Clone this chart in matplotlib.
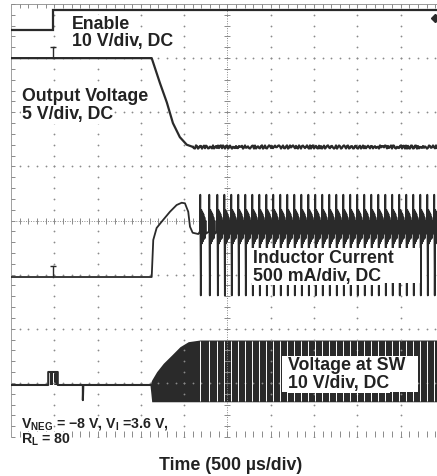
import numpy as np
import matplotlib.pyplot as plt
from matplotlib.patches import Rectangle

plt.rcParams['font.family'] = ['Liberation Sans', 'DejaVu Sans']
plt.rcParams['mathtext.fontset'] = 'custom'
plt.rcParams['mathtext.rm'] = 'Liberation Sans:bold'
plt.rcParams['mathtext.bf'] = 'Liberation Sans:bold'
plt.rcParams['mathtext.default'] = 'bf'

# ---- scope settings -------------------------------------------------------
MS_PER_DIV = 0.5            # 500 us/div
T_END = 4.92                # visible part of the time base (ms)
N_YDIV = 8

# channel ground positions (div from bottom) and units per division
ENABLE_GND, ENABLE_SCALE = 7.52, 10.0    # V/div
VOUT_GND, VOUT_SCALE = 7.0, 5.0          # V/div
IL_GND, IL_SCALE = 2.956, 0.5            # A/div
SW_GND, SW_SCALE = 0.961, 10.0           # V/div

# ---- waveforms -------------------------------------------------------------
trigger_t = 0.485

enable_t = [0.0, 0.485, 0.485, T_END]
enable_v = [0.0, 0.0, 3.6, 3.6]

vout_t = [0.0, 1.625, 1.72, 1.80, 1.87, 1.95, 2.03, 2.10]
vout_v = [0.0, 0.0, -2.3, -4.1, -6.0, -7.3, -8.0, -8.2]
vout_final = -8.2

il_t = [0.0, 1.625, 1.643, 1.682, 1.740, 1.836, 1.913, 1.971, 2.009,
        2.047, 2.067, 2.098, 2.163]
il_v = [0.0, 0.0, 0.342, 0.453, 0.511, 0.603, 0.665, 0.686, 0.681,
        0.603, 0.465, 0.409, 0.397]

# switching events after soft start (ms)
switch_t = [2.182, 2.286, 2.379, 2.460, 2.540, 2.621, 2.702, 2.783, 2.864,
            2.945, 3.025, 3.106, 3.187, 3.268, 3.349, 3.430, 3.510, 3.591,
            3.672, 3.753, 3.834, 3.914, 3.995, 4.076, 4.157, 4.238, 4.319,
            4.399, 4.480, 4.561, 4.642, 4.723, 4.804, 4.884]
# inductor current around one switching event (offset ms, A)
ring_dt = [0.0, 0.004, 0.010, 0.016, 0.022, 0.028, 0.034, 0.040, 0.046,
           0.052, 0.058, 0.064, 0.070]
ring_il = [0.42, 0.76, -0.17, 0.62, 0.31, 0.60, 0.33, 0.58, 0.35,
           0.55, 0.36, 0.52, 0.40]

# switch node: idle trace before start-up (ms, V)
sw_idle_t = [0.0, 0.43, 0.43, 0.54, 0.54, 0.83, 0.83, 0.835, 1.605]
sw_idle_v = [0.0, 0.0, 2.4, 2.4, 0.0, 0.0, -2.8, 0.0, 0.0]
sw_blips = [(0.45, 0.485), (0.497, 0.531)]
sw_blip_v = 2.4
# switch node envelope during start-up
sw_env_t = [1.605, 1.615, 1.625, 1.682, 1.759, 1.856, 1.951, 2.047, 2.182, T_END]
sw_env_hi = [0.0, 0.5, 0.92, 2.45, 4.01, 5.54, 7.07, 8.0, 8.31, 8.31]
sw_env_lo = [0.0, -1.5, -3.1, -3.1, -3.1, -3.1, -3.1, -3.1, -3.1, -3.1]


def to_div(values, gnd, scale):
    return gnd + np.asarray(values, dtype=float) / scale


TRACE = '#2a2a2a'
GRID = '#8a8a8a'
INK = '#222222'

fig = plt.figure(figsize=(4.37, 4.76), dpi=100)
ax = fig.add_axes([11 / 437, 39 / 476, 426 / 437, 433 / 476])
ax.set_xlim(0, T_END)
ax.set_ylim(0, N_YDIV)
ax.axis('off')

# ---- graticule -------------------------------------------------------------
minor_x = np.arange(0, 10.01, 0.2) * MS_PER_DIV
minor_y = np.arange(0, N_YDIV + 0.01, 0.2)
for gx in [1, 2, 3, 4, 6, 7, 8, 9]:
    ax.plot(np.full_like(minor_y, gx * MS_PER_DIV), minor_y, ls='none',
            marker='o', ms=1.3, mew=0, color=GRID)
for gy in [1, 2, 3, 5, 6, 7]:
    ax.plot(minor_x, np.full_like(minor_x, gy), ls='none',
            marker='o', ms=1.3, mew=0, color=GRID)
# centre cross with minor ticks
cx = 5 * MS_PER_DIV
ax.plot([cx, cx], [0, N_YDIV], ls=(0, (1, 1.5)), lw=0.7, color=GRID)
ax.plot(np.full_like(minor_y, cx), minor_y, ls='none', marker='_', ms=5,
        mew=0.7, color=GRID)
ax.plot([0, T_END], [4, 4], ls=(0, (1, 1.5)), lw=0.7, color=GRID)
ax.plot(minor_x, np.full_like(minor_x, 4), ls='none', marker='|', ms=5,
        mew=0.7, color=GRID)
# screen border
ax.plot([0, T_END], [N_YDIV, N_YDIV], lw=1.4, color='#9a9a9a')
ax.plot(minor_x, np.full_like(minor_x, N_YDIV), ls='none', marker=3, ms=3,
        mew=0.7, color=GRID)
ax.plot(minor_x, np.zeros_like(minor_x), ls='none', marker=2, ms=4,
        mew=0.7, color=GRID)
ax.plot([0, 0], [0, N_YDIV], lw=0.7, color='#a0a0a0')
ax.plot(np.zeros_like(minor_y), minor_y, ls='none', marker=1, ms=3,
        mew=0.7, color=GRID)

# ---- traces ----------------------------------------------------------------
ax.plot(enable_t, to_div(enable_v, ENABLE_GND, ENABLE_SCALE), color=TRACE,
        lw=1.6, solid_joinstyle='miter')
ax.plot(T_END - 0.02, ENABLE_GND + 0.22, marker='D', ms=4.5, color=TRACE,
        clip_on=False)

ax.plot(vout_t, to_div(vout_v, VOUT_GND, VOUT_SCALE), color=TRACE, lw=1.6)
ripple, = ax.plot([vout_t[-1], T_END],
                  to_div([vout_final, vout_final], VOUT_GND, VOUT_SCALE),
                  color=TRACE, lw=1.6)
ripple.set_sketch_params(scale=1.6, length=3.5, randomness=2)

# ground / trigger markers
for gnd in (VOUT_GND, IL_GND):
    ax.plot([trigger_t, trigger_t], [gnd, gnd + 0.21], color=TRACE, lw=1.0)
    ax.plot(trigger_t, gnd + 0.21, marker='_', ms=5, mew=1.0, color=TRACE)

il_full_t = list(il_t)
il_full_v = list(il_v)
for tp in switch_t:
    for dt, v in zip(ring_dt, ring_il):
        il_full_t.append(tp + dt)
        il_full_v.append(v)
il_full_t.append(T_END)
il_full_v.append(ring_il[-1])
ax.plot(il_full_t, to_div(il_full_v, IL_GND, IL_SCALE), color=TRACE, lw=1.3)

ax.plot(sw_idle_t, to_div(sw_idle_v, SW_GND, SW_SCALE), color=TRACE, lw=1.5)
for a, b in sw_blips:
    ax.fill_between([a, b], SW_GND, SW_GND + sw_blip_v / SW_SCALE,
                    color=TRACE, lw=0)
ax.fill_between(sw_env_t, to_div(sw_env_lo, SW_GND, SW_SCALE),
                to_div(sw_env_hi, SW_GND, SW_SCALE), color=TRACE, lw=0)
ax.vlines(switch_t, SW_GND + min(sw_env_lo) / SW_SCALE + 0.02,
          SW_GND + max(sw_env_hi) / SW_SCALE - 0.02, color='white', lw=0.7)

# ---- annotations -----------------------------------------------------------
LABEL = dict(fontsize=12.8, fontweight='bold', color=INK)

ax.add_patch(Rectangle((2.725, 2.845), 4.723 - 2.725, 3.492 - 2.845,
                       facecolor='white', edgecolor='none', zorder=5))
ax.add_patch(Rectangle((3.129, 0.831), 4.700 - 3.129, 1.497 - 0.831,
                       facecolor='white', edgecolor='none', zorder=5))

labels = [
    (0.704, [7.538, 7.215], ['Enable', '10 V/div, DC']),
    (0.127, [6.213, 5.870], ['Output Voltage', '5 V/div, DC']),
    (2.794, [3.220, 2.888], ['Inductor Current', '500 mA/div, DC']),
    (3.199, [1.238, 0.900], ['Voltage at SW', '10 V/div, DC']),
]
for x, ys, lines in labels:
    for y, s in zip(ys, lines):
        ax.text(x, y, s, va='baseline', ha='left', zorder=6,
                bbox=dict(facecolor='white', edgecolor='none', pad=0.5),
                **LABEL)

# test conditions, bottom left of the screen
ax.text(0.115, -0.13, 'R$_{L}$ = 80', va='baseline', ha='left',
        fontsize=10.2, fontweight='bold', color=INK, zorder=6,
        bbox=dict(facecolor='white', edgecolor='none', pad=0.2))
ax.text(0.115, 0.17, 'V$_{NEG}$ = \u22128 V, V$_{I}$ =3.6 V,', va='baseline',
        ha='left', fontsize=10.2, fontweight='bold', color=INK, zorder=7)

fig.text(231 / 437, 5.5 / 476, 'Time (500 \u00b5s/div)', ha='center',
         va='baseline', fontsize=12.8, fontweight='bold', color=INK)

fig.savefig('out.png', dpi=100)
